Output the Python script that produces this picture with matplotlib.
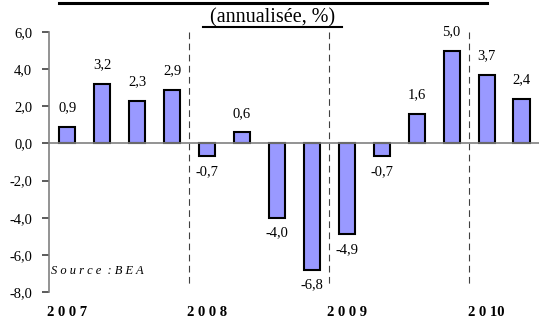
import matplotlib.pyplot as plt
from matplotlib.lines import Line2D

plt.rcParams['font.family'] = ['Liberation Serif', 'DejaVu Serif']

values = [0.9, 3.2, 2.3, 2.9, -0.7, 0.6, -4.0, -6.8, -4.9, -0.7, 1.6, 5.0, 3.7, 2.4]
labels = ['0,9', '3,2', '2,3', '2,9', '-0,7', '0,6', '-4,0', '-6,8', '-4,9', '-0,7', '1,6', '5,0', '3,7', '2,4']
years = ['2 0 0 7', '2 0 0 8', '2 0 0 9', '2 0 10']
year_pos = [0, 4, 8, 12]
year_breaks = [3.5, 7.5, 11.5]
yticks = [6, 4, 2, 0, -2, -4, -6, -8]
ytick_labels = ['6,0', '4,0', '2,0', '0,0', '-2,0', '-4,0', '-6,0', '-8,0']

fig = plt.figure(figsize=(5.39, 3.21), dpi=100)
ax = fig.add_axes([49/539, 1 - 292/321, 1 - 49/539, 260/321])

x = list(range(len(values)))
ax.bar(x, values, width=0.46, color='#9999FF', edgecolor='black', linewidth=1.5, zorder=3)

for xi, v, lab in zip(x, values, labels):
    if v >= 0:
        ax.annotate(lab, (xi, v), xytext=(0, 9), textcoords='offset points',
                    ha='center', va='bottom', fontsize=10.5)
    else:
        ax.annotate(lab, (xi, v), xytext=(0, -6), textcoords='offset points',
                    ha='center', va='top', fontsize=10.5)

for b in year_breaks:
    ax.plot([b, b], [6, -7.6], color='#404040', lw=0.8, ls=(0, (6, 4)), zorder=2)

ax.axhline(0, color='#808080', lw=1.2, zorder=4)

ax.set_xlim(-0.52, 13.5)
ax.set_ylim(-8, 6)
ax.set_yticks(yticks)
ax.set_yticklabels(ytick_labels, fontsize=10.5)
ax.set_xticks([])
for s in ['top', 'right', 'bottom']:
    ax.spines[s].set_visible(False)
ax.spines['left'].set_color('#808080')
ax.spines['left'].set_linewidth(1.2)
ax.tick_params(axis='y', direction='out', length=5, width=1.2, color='#404040', pad=7)

for p, yr in zip(year_pos, years):
    ax.text(p, -9.1, yr, ha='center', va='center', fontsize=10.5, fontweight='bold')

ax.text(0.005, 0.08, 'S o u r c e  : B E A', transform=ax.transAxes,
        fontsize=9, style='italic', ha='left', va='center')

fig.text(273/539, 1 - 18/321, '(annualisée, %)', ha='center', va='center', fontsize=14.5)
fig.add_artist(Line2D([203/539, 342/539], [1 - 27/321, 1 - 27/321], color='black', lw=1.5))
fig.add_artist(Line2D([59/539, 487/539], [1 - 3/321, 1 - 3/321], color='black', lw=2.2))

fig.savefig('out.png', dpi=100)
